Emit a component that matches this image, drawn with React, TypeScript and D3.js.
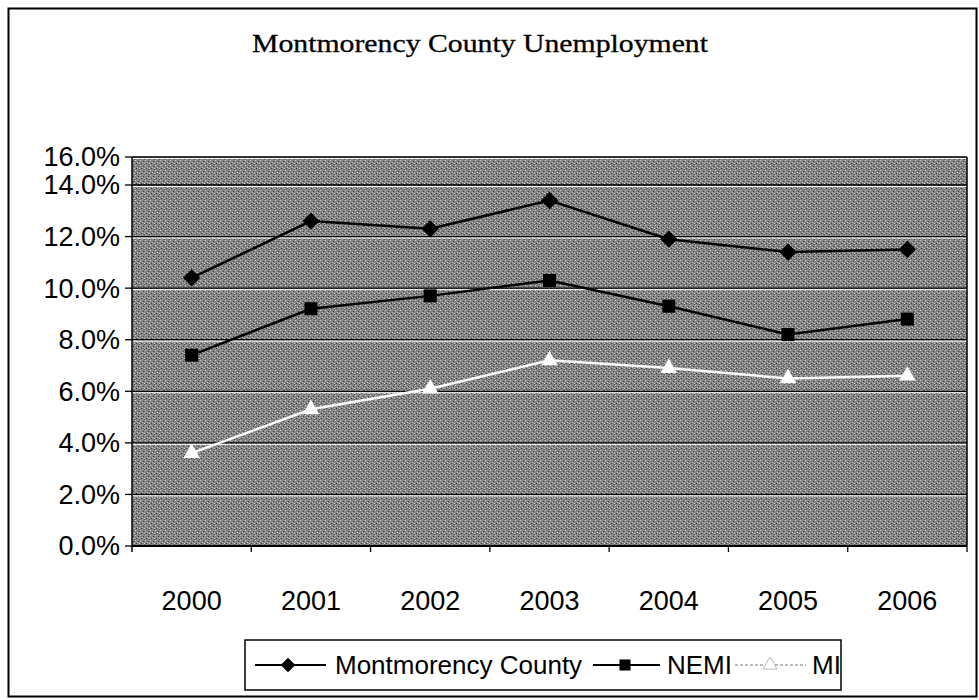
import React from "react";
import * as d3 from "d3";

const years = ["2000", "2001", "2002", "2003", "2004", "2005", "2006"];
const montmorency = [10.4, 12.6, 12.3, 13.4, 11.9, 11.4, 11.5];
const nemi = [7.4, 9.2, 9.7, 10.3, 9.3, 8.2, 8.8];
const mi = [3.6, 5.3, 6.1, 7.2, 6.9, 6.5, 6.6];
const yTicks = [0, 2, 4, 6, 8, 10, 12, 14, 16];
const seriesNames = ["Montmorency County", "NEMI", "MI"];

const W = 979;
const H = 700;
const left = 132;
const right = 967;
const SANS = "'Liberation Sans', Arial, sans-serif";

export default function App() {
  const x = d3.scaleBand<string>().domain(years).range([left, right]).padding(0);
  // the scanned picture compresses the top interval; follow it piecewise
  const y = d3.scaleLinear().domain([0, 14, 16]).range([546, 185, 157]);
  const cx = (d: string) => (x(d) as number) + x.bandwidth() / 2;
  const line = d3
    .line<number>()
    .x((_, i) => cx(years[i]))
    .y((v) => y(v));

  const diamond = d3.symbol().type(d3.symbolSquare).size(150)() as string;
  const square = d3.symbol().type(d3.symbolSquare).size(170)() as string;
  const tri = d3.symbol().type(d3.symbolTriangle).size(120)() as string;

  const series = [
    { name: seriesNames[0], data: montmorency, color: "#000", marker: diamond, rot: 45 },
    { name: seriesNames[1], data: nemi, color: "#000", marker: square, rot: 0 },
    { name: seriesNames[2], data: mi, color: "#fff", marker: tri, rot: 0 },
  ];

  const legendItems = [
    { x0: 255, x1: 326, mx: 288, tx: 335 },
    { x0: 593, x1: 660, mx: 625, tx: 667 },
    { x0: 735, x1: 806, mx: 770, tx: 812 },
  ];
  const ly = 665;

  return (
    <svg width={W} height={H} style={{ position: "absolute", left: 0, top: 0 }}>
      <defs>
        <pattern id="noise" width="5" height="5" patternUnits="userSpaceOnUse">
          <rect width="5" height="5" fill="#858585" />
          <rect x="0" y="0" width="1" height="1" fill="#c8c8c8" />
          <rect x="2" y="2" width="1" height="1" fill="#bdbdbd" />
          <rect x="4" y="3" width="1" height="1" fill="#d0d0d0" />
          <rect x="1" y="3" width="1" height="1" fill="#3a3a3a" />
          <rect x="3" y="1" width="1" height="1" fill="#404040" />
          <rect x="4" y="4" width="1" height="1" fill="#4a4a4a" />
        </pattern>
      </defs>
      <rect x={0} y={0} width={W} height={H} fill="#fff" />
      <rect x={8.5} y={8.5} width={968} height={688} fill="none" stroke="#000" strokeWidth={2} />
      <text
        x={252}
        y={52}
        textLength={456}
        lengthAdjust="spacingAndGlyphs"
        fontFamily="'Liberation Serif', 'DejaVu Serif', serif"
        fontSize={25}
        fill="#000"
        stroke="#000"
        strokeWidth={0.3}
      >
        Montmorency County Unemployment
      </text>

      <rect x={left} y={y(16)} width={right - left} height={y(0) - y(16)} fill="url(#noise)" />
      {yTicks.map((t) => (
        <g key={t}>
          <line x1={left} x2={right} y1={y(t)} y2={y(t)} stroke="#000" strokeWidth={1.3} />
          <line x1={left} x2={right} y1={y(t) + 1.5} y2={y(t) + 1.5} stroke="#fff" strokeWidth={1} />
          <line x1={125} x2={left} y1={y(t)} y2={y(t)} stroke="#000" strokeWidth={1.3} />
          <text x={120} y={y(t)} dy="0.35em" textAnchor="end" fontFamily={SANS} fontSize={27} fill="#000">
            {t.toFixed(1) + "%"}
          </text>
        </g>
      ))}
      <line x1={left} x2={left} y1={y(16)} y2={y(0) + 6} stroke="#000" strokeWidth={1.5} />
      <line x1={right} x2={right} y1={y(16)} y2={y(0)} stroke="#000" strokeWidth={1.5} />
      <line x1={left} x2={right} y1={y(0)} y2={y(0)} stroke="#000" strokeWidth={2} />
      {years.map((yr) => (
        <g key={yr}>
          <line
            x1={(x(yr) as number) + x.bandwidth()}
            x2={(x(yr) as number) + x.bandwidth()}
            y1={y(0)}
            y2={y(0) + 6}
            stroke="#000"
            strokeWidth={1.3}
          />
          <text x={cx(yr)} y={601} dy="0.35em" textAnchor="middle" fontFamily={SANS} fontSize={27} fill="#000">
            {yr}
          </text>
        </g>
      ))}

      {series.map((s) => (
        <g key={s.name}>
          <path d={line(s.data) as string} fill="none" stroke={s.color} strokeWidth={2.5} />
          {s.data.map((v, i) => (
            <path
              key={i}
              d={s.marker}
              transform={`translate(${cx(years[i])},${y(v)}) rotate(${s.rot})`}
              fill={s.color}
            />
          ))}
        </g>
      ))}

      <rect x={245} y={640} width={596} height={50} fill="#fff" stroke="#000" strokeWidth={1.5} />
      {series.map((s, i) => {
        const it = legendItems[i];
        return (
          <g key={s.name}>
            <line
              x1={it.x0}
              x2={it.x1}
              y1={ly}
              y2={ly}
              stroke={i === 2 ? "#777" : "#000"}
              strokeWidth={i === 2 ? 1 : 2}
              strokeDasharray={i === 2 ? "3,2" : undefined}
            />
            <path
              d={s.marker}
              transform={`translate(${it.mx},${ly}) rotate(${s.rot}) scale(0.85)`}
              fill={i === 2 ? "#fff" : "#000"}
              stroke={i === 2 ? "#999" : "none"}
              strokeWidth={0.8}
            />
            <text x={it.tx} y={ly} dy="0.35em" fontFamily={SANS} fontSize={26} fill="#000">
              {s.name}
            </text>
          </g>
        );
      })}
    </svg>
  );
}
